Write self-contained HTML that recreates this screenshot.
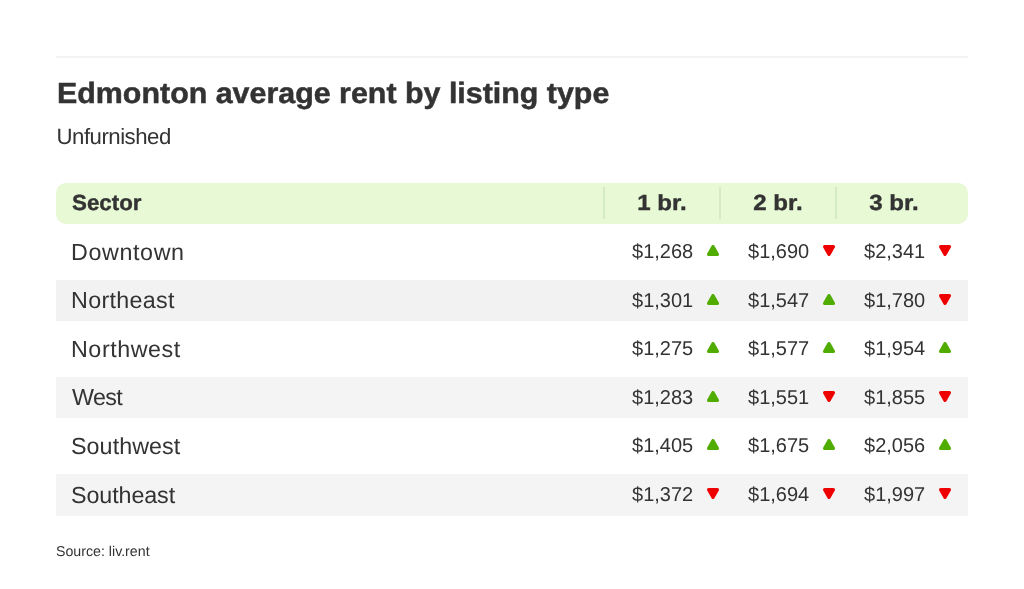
<!DOCTYPE html>
<html lang="en"><head><meta charset="utf-8">
<title>Edmonton average rent by listing type</title>
<style>
html,body{margin:0;padding:0;background:#fff;}
body{width:1024px;height:589px;position:relative;overflow:hidden;text-rendering:geometricPrecision;font-family:"Liberation Sans", Arial, sans-serif;color:#333;}
.rule{position:absolute;left:56px;width:912px;top:56px;height:2px;background:#f3f3f3;}
.t{position:absolute;white-space:nowrap;line-height:1;}
.title{left:57px;top:80.4px;font-size:29.2px;letter-spacing:0px;font-weight:700;transform:scaleX(1.0415);transform-origin:0 0;-webkit-text-stroke:0.5px #333;}
.sub{left:56.5px;top:126.3px;font-size:22.2px;letter-spacing:-0.49px;}
.hdr{position:absolute;left:56px;top:183px;width:912px;height:41px;background:#e7f9d5;border-radius:10px;}
.dv{position:absolute;top:187px;height:32px;width:2px;margin-left:-1px;background:#d4ebc3;}
.h{position:absolute;font-weight:700;font-size:21.9px;line-height:41px;top:182.2px;white-space:nowrap;-webkit-text-stroke:0.4px #333;}
.hc{width:116px;text-align:center;letter-spacing:0px;text-indent:0px;transform:scaleX(1.1);}
.band{position:absolute;left:56px;width:912px;height:41px;background:#f2f2f2;}
.row{position:absolute;left:0;width:1024px;height:41px;line-height:41px;}
.row .s{position:absolute;left:71px;font-size:23.3px;letter-spacing:0px;white-space:nowrap;}
.row .v{position:absolute;font-size:20px;letter-spacing:0px;white-space:nowrap;}
.tri{position:absolute;}
.src{left:56px;top:544.5px;font-size:14.2px;letter-spacing:0px;}
</style></head><body>
<svg width="0" height="0" style="position:absolute">
<defs>
<symbol id="u" viewBox="0 0 12 11"><path d="M6 1.6 L10.4 9.4 L1.6 9.4 Z" fill="#50ad00" stroke="#50ad00" stroke-width="3.2" stroke-linejoin="round"/></symbol>
<symbol id="d" viewBox="0 0 12 11"><path d="M6 9.4 L10.4 1.6 L1.6 1.6 Z" fill="#ee0000" stroke="#ee0000" stroke-width="3.2" stroke-linejoin="round"/></symbol>
</defs></svg>
<div class="rule"></div>
<div class="t title">Edmonton average rent by listing type</div>
<div class="t sub">Unfurnished</div>
<div class="hdr"></div>
<div class="dv" style="left:604px"></div>
<div class="dv" style="left:720px"></div>
<div class="dv" style="left:836px"></div>
<div class="h" style="left:71.5px;letter-spacing:0px;transform:scaleX(1.02);transform-origin:0 0">Sector</div>
<div class="h hc" style="left:604px">1 br.</div>
<div class="h hc" style="left:720px">2 br.</div>
<div class="h hc" style="left:836px">3 br.</div>
<div class="band" style="top:280px"></div>
<div class="band" style="top:377px;background:#f4f4f4"></div>
<div class="band" style="top:474px;height:42px;background:#f4f4f4"></div>
<div class="row" style="top:231.25px">
<span class="s" style="letter-spacing:0.61px;margin-left:0px;top:0.5px">Downtown</span>
<span class="v" style="right:330.80px;top:0.8px">$1,268</span><svg class="tri" style="left:707.00px;top:13.90px" width="12" height="11" viewBox="0 0 12 11"><use href="#u"/></svg>
<span class="v" style="right:214.80px;top:0.8px">$1,690</span><svg class="tri" style="left:823.00px;top:13.90px" width="12" height="11" viewBox="0 0 12 11"><use href="#d"/></svg>
<span class="v" style="right:98.80px;top:0.8px">$2,341</span><svg class="tri" style="left:939.00px;top:13.90px" width="12" height="11" viewBox="0 0 12 11"><use href="#d"/></svg>
</div>
<div class="row" style="top:279.75px">
<span class="s" style="letter-spacing:0.32px;margin-left:0px;top:0.2px">Northeast</span>
<span class="v" style="right:330.80px;top:0.8px">$1,301</span><svg class="tri" style="left:707.00px;top:13.90px" width="12" height="11" viewBox="0 0 12 11"><use href="#u"/></svg>
<span class="v" style="right:214.80px;top:0.8px">$1,547</span><svg class="tri" style="left:823.00px;top:13.90px" width="12" height="11" viewBox="0 0 12 11"><use href="#u"/></svg>
<span class="v" style="right:98.80px;top:0.8px">$1,780</span><svg class="tri" style="left:939.00px;top:13.90px" width="12" height="11" viewBox="0 0 12 11"><use href="#d"/></svg>
</div>
<div class="row" style="top:328.25px">
<span class="s" style="letter-spacing:0.55px;margin-left:0px;top:1px">Northwest</span>
<span class="v" style="right:330.80px;top:0.8px">$1,275</span><svg class="tri" style="left:707.00px;top:13.90px" width="12" height="11" viewBox="0 0 12 11"><use href="#u"/></svg>
<span class="v" style="right:214.80px;top:0.8px">$1,577</span><svg class="tri" style="left:823.00px;top:13.90px" width="12" height="11" viewBox="0 0 12 11"><use href="#u"/></svg>
<span class="v" style="right:98.80px;top:0.8px">$1,954</span><svg class="tri" style="left:939.00px;top:13.90px" width="12" height="11" viewBox="0 0 12 11"><use href="#u"/></svg>
</div>
<div class="row" style="top:376.75px">
<span class="s" style="letter-spacing:-0.6px;margin-left:1px;top:0.5px">West</span>
<span class="v" style="right:330.80px;top:0.8px">$1,283</span><svg class="tri" style="left:707.00px;top:13.90px" width="12" height="11" viewBox="0 0 12 11"><use href="#u"/></svg>
<span class="v" style="right:214.80px;top:0.8px">$1,551</span><svg class="tri" style="left:823.00px;top:13.90px" width="12" height="11" viewBox="0 0 12 11"><use href="#d"/></svg>
<span class="v" style="right:98.80px;top:0.8px">$1,855</span><svg class="tri" style="left:939.00px;top:13.90px" width="12" height="11" viewBox="0 0 12 11"><use href="#d"/></svg>
</div>
<div class="row" style="top:425.25px">
<span class="s" style="letter-spacing:0.06px;margin-left:0px;top:1px">Southwest</span>
<span class="v" style="right:330.80px;top:0.8px">$1,405</span><svg class="tri" style="left:707.00px;top:13.90px" width="12" height="11" viewBox="0 0 12 11"><use href="#u"/></svg>
<span class="v" style="right:214.80px;top:0.8px">$1,675</span><svg class="tri" style="left:823.00px;top:13.90px" width="12" height="11" viewBox="0 0 12 11"><use href="#u"/></svg>
<span class="v" style="right:98.80px;top:0.8px">$2,056</span><svg class="tri" style="left:939.00px;top:13.90px" width="12" height="11" viewBox="0 0 12 11"><use href="#u"/></svg>
</div>
<div class="row" style="top:473.75px">
<span class="s" style="letter-spacing:-0.1px;margin-left:0px;top:1px">Southeast</span>
<span class="v" style="right:330.80px;top:0.8px">$1,372</span><svg class="tri" style="left:707.00px;top:13.90px" width="12" height="11" viewBox="0 0 12 11"><use href="#d"/></svg>
<span class="v" style="right:214.80px;top:0.8px">$1,694</span><svg class="tri" style="left:823.00px;top:13.90px" width="12" height="11" viewBox="0 0 12 11"><use href="#d"/></svg>
<span class="v" style="right:98.80px;top:0.8px">$1,997</span><svg class="tri" style="left:939.00px;top:13.90px" width="12" height="11" viewBox="0 0 12 11"><use href="#d"/></svg>
</div>
<div class="t src">Source: liv.rent</div>
</body></html>
